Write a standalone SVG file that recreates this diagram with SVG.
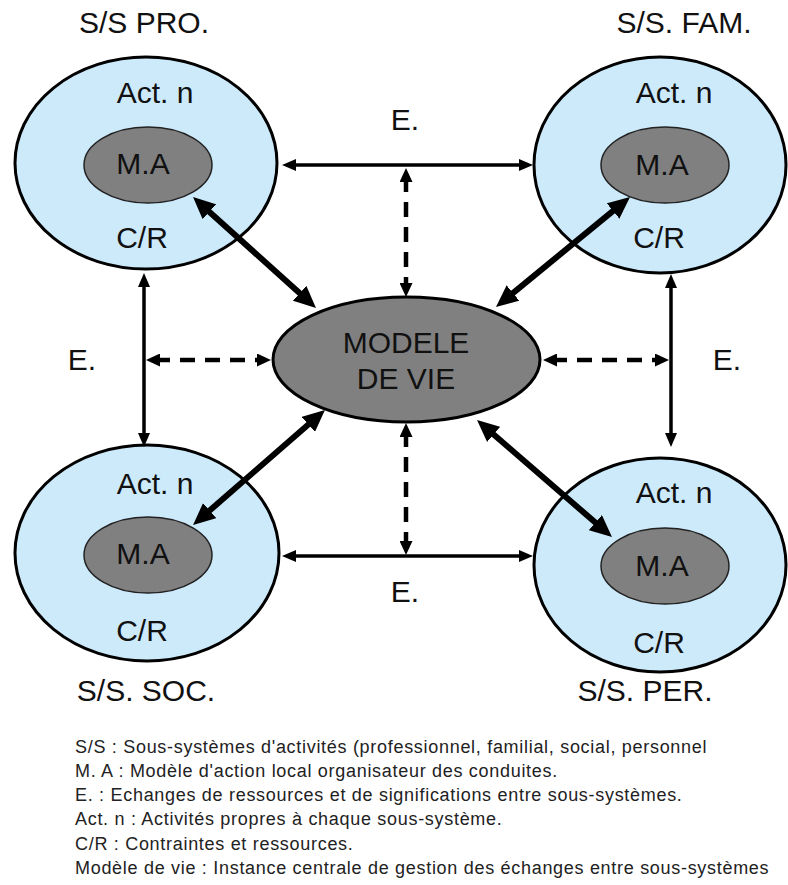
<svg xmlns="http://www.w3.org/2000/svg" width="788" height="885" viewBox="0 0 788 885">
  <defs>
    <style>
      .sub { fill: #cdeafb; stroke: #000; stroke-width: 3; }
      .ma { fill: #808080; stroke: #222; stroke-width: 1.5; }
      .core { fill: #808080; stroke: #000; stroke-width: 3; }
      .lbl { font-family: "Liberation Sans", Arial, sans-serif; font-size: 30px; fill: #111; text-anchor: middle; }
      .leg { font-family: "Liberation Sans", Arial, sans-serif; font-size: 18px; fill: #222; letter-spacing: 0.7px; }
      .thick { stroke: #000; stroke-width: 6; fill: none; marker-start: url(#bigHead); marker-end: url(#bigHead); }
      .thin { stroke: #000; stroke-width: 3.5; fill: none; marker-start: url(#smallHead); marker-end: url(#smallHead); }
      .dash { stroke: #000; stroke-width: 4.5; fill: none; stroke-dasharray: 15 10; marker-start: url(#dashHead); marker-end: url(#dashHead); }
    </style>
    <marker id="bigHead" markerUnits="userSpaceOnUse" viewBox="0 0 22 20" markerWidth="22" markerHeight="20" refX="8" refY="10" orient="auto-start-reverse">
      <path d="M0,0 L22,10 L0,20 z" fill="#000"/>
    </marker>
    <marker id="smallHead" markerUnits="userSpaceOnUse" viewBox="0 0 14 12" markerWidth="14" markerHeight="12" refX="5" refY="6" orient="auto-start-reverse">
      <path d="M0,0 L14,6 L0,12 z" fill="#000"/>
    </marker>
    <marker id="dashHead" markerUnits="userSpaceOnUse" viewBox="0 0 14 13" markerWidth="14" markerHeight="13" refX="5" refY="6.5" orient="auto-start-reverse">
      <path d="M0,0 L14,6.5 L0,13 z" fill="#000"/>
    </marker>
  </defs>

  <rect width="788" height="885" fill="#fff"/>

  <!-- sub-system: professional -->
  <g id="ss-pro">
    <ellipse class="sub" cx="146" cy="163" rx="131" ry="106"/>
    <ellipse class="ma" cx="148" cy="165" rx="64" ry="38"/>
    <text class="lbl" x="144" y="33">S/S PRO.</text>
    <text class="lbl" x="155" y="103">Act. n</text>
    <text class="lbl" x="143" y="174">M.A</text>
    <text class="lbl" x="142" y="248">C/R</text>
  </g>

  <!-- sub-system: family -->
  <g id="ss-fam">
    <ellipse class="sub" cx="660" cy="165" rx="126" ry="108"/>
    <ellipse class="ma" cx="665" cy="165" rx="64" ry="38"/>
    <text class="lbl" x="684" y="33">S/S. FAM.</text>
    <text class="lbl" x="674" y="103">Act. n</text>
    <text class="lbl" x="662" y="175">M.A</text>
    <text class="lbl" x="659" y="248">C/R</text>
  </g>

  <!-- sub-system: social -->
  <g id="ss-soc">
    <ellipse class="sub" cx="147" cy="553" rx="132" ry="108"/>
    <ellipse class="ma" cx="148" cy="555" rx="64" ry="38"/>
    <text class="lbl" x="146" y="701">S/S. SOC.</text>
    <text class="lbl" x="155" y="494">Act. n</text>
    <text class="lbl" x="143" y="564">M.A</text>
    <text class="lbl" x="142" y="641">C/R</text>
  </g>

  <!-- sub-system: personal -->
  <g id="ss-per">
    <ellipse class="sub" cx="660" cy="565" rx="126" ry="107"/>
    <ellipse class="ma" cx="665" cy="566" rx="64" ry="38"/>
    <text class="lbl" x="645" y="701">S/S. PER.</text>
    <text class="lbl" x="674" y="503">Act. n</text>
    <text class="lbl" x="662" y="576">M.A</text>
    <text class="lbl" x="659" y="653">C/R</text>
  </g>

  <!-- central life model -->
  <g id="modele-de-vie">
    <ellipse class="core" cx="406.5" cy="359.5" rx="133.5" ry="62.5"/>
    <text class="lbl" x="406" y="353">MODELE</text>
    <text class="lbl" x="406" y="389">DE VIE</text>
  </g>

  <!-- connectors -->
  <g id="connectors">
    <!-- exchanges between sub-systems -->
    <line class="thin" x1="291" y1="165" x2="524" y2="165"/>
    <line class="thin" x1="291" y1="556" x2="524" y2="556"/>
    <line class="thin" x1="144" y1="282" x2="144" y2="438"/>
    <line class="thin" x1="671" y1="283" x2="671" y2="438"/>
    <!-- links from exchanges to the life model -->
    <line class="dash" x1="406" y1="177" x2="406" y2="288"/>
    <line class="dash" x1="406" y1="432" x2="406" y2="546"/>
    <line class="dash" x1="155" y1="360" x2="262" y2="360"/>
    <line class="dash" x1="552" y1="360" x2="660" y2="360"/>
    <!-- action models to life model -->
    <line class="thick" x1="203.4" y1="206.4" x2="305.6" y2="298.6"/>
    <line class="thick" x1="619.2" y1="205.9" x2="506.8" y2="298.1"/>
    <line class="thick" x1="203.6" y1="515.8" x2="314.4" y2="419.2"/>
    <line class="thick" x1="601.4" y1="527.8" x2="487.6" y2="429.2"/>
  </g>

  <!-- exchange labels -->
  <g id="exchange-labels">
    <text class="lbl" x="405" y="130">E.</text>
    <text class="lbl" x="82" y="370">E.</text>
    <text class="lbl" x="727" y="370">E.</text>
    <text class="lbl" x="405" y="602">E.</text>
  </g>

  <!-- legend -->
  <g id="legend">
    <text class="leg" x="75" y="753">S/S : Sous-systèmes d'activités (professionnel, familial, social, personnel</text>
    <text class="leg" x="75" y="777">M. A : Modèle d'action local organisateur des conduites.</text>
    <text class="leg" x="75" y="801">E. : Echanges de ressources et de significations entre sous-systèmes.</text>
    <text class="leg" x="75" y="825">Act. n : Activités propres à chaque sous-système.</text>
    <text class="leg" x="75" y="850">C/R : Contraintes et ressources.</text>
    <text class="leg" x="75" y="874">Modèle de vie : Instance centrale de gestion des échanges entre sous-systèmes</text>
  </g>
</svg>
